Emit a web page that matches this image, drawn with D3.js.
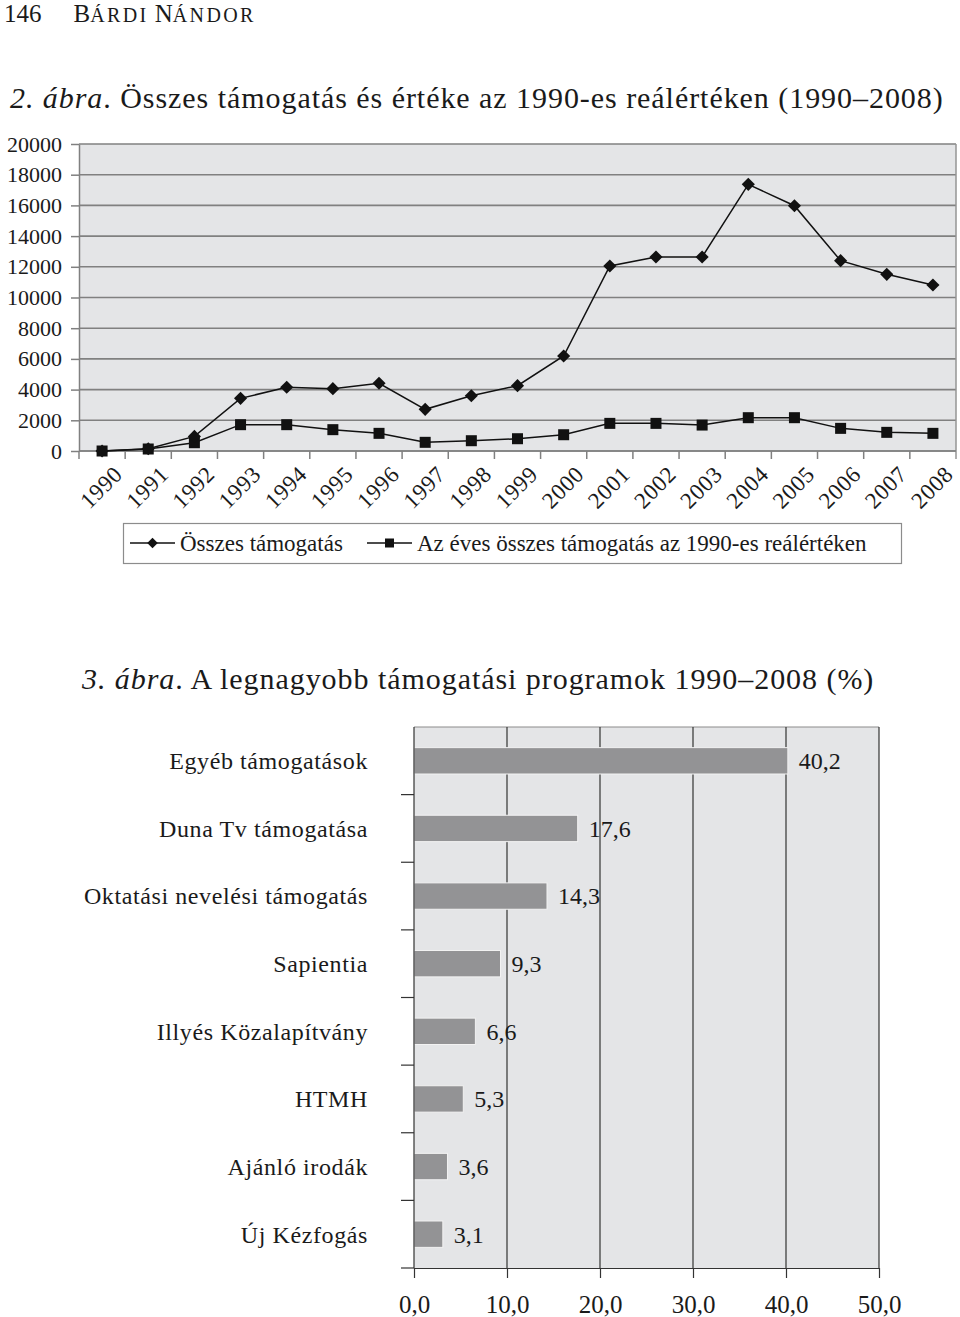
<!DOCTYPE html>
<html>
<head>
<meta charset="utf-8">
<script src="https://cdn.jsdelivr.net/npm/d3@7"></script>
<style>
  body { margin: 0; background: #fff; }
  svg text { font-family: "Liberation Serif", "Times New Roman", serif !important; fill: #1a1a1a; }
</style>
</head>
<body>
<script>
// --- data: figure 2 (line chart)
var years = ["1990","1991","1992","1993","1994","1995","1996","1997","1998","1999",
             "2000","2001","2002","2003","2004","2005","2006","2007","2008"];
var osszes = [0, 150, 950, 3430, 4150, 4060, 4410, 2715, 3600, 4255,
              6190, 12050, 12640, 12640, 17370, 15980, 12400, 11510, 10815];
var realErtek = [0, 130, 540, 1715, 1715, 1390, 1150, 565, 670, 800,
                 1060, 1800, 1800, 1690, 2170, 2170, 1475, 1215, 1150];
var lineTicks = [0, 2000, 4000, 6000, 8000, 10000, 12000, 14000, 16000, 18000, 20000];
var seriesNames = ["Összes támogatás", "Az éves összes támogatás az 1990-es reálértéken"];

// --- data: figure 3 (bar chart)
var programs = ["Egyéb támogatások", "Duna Tv támogatása", "Oktatási nevelési támogatás",
                "Sapientia", "Illyés Közalapítvány", "HTMH", "Ajánló irodák", "Új Kézfogás"];
var shares = [40.2, 17.6, 14.3, 9.3, 6.6, 5.3, 3.6, 3.1];
var barTicks = [0, 10, 20, 30, 40, 50];

var fmt = function(v) { return d3.format(".1f")(v).replace(".", ","); };

var svg = d3.select("body").append("svg")
    .attr("width", 960)
    .attr("height", 1317);

// page header (hand-made small caps)
var head = svg.append("text").attr("x", 4).attr("y", 22).style("font-size", "25px");
head.append("tspan").text("146");
head.append("tspan").attr("dx", 32).text("B");
head.append("tspan").style("font-size", "20px").style("letter-spacing", "2.4px").text("ÁRDI");
head.append("tspan").attr("dx", 6).text("N");
head.append("tspan").style("font-size", "20px").style("letter-spacing", "2.4px").text("ÁNDOR");

// figure 2 title
var t2 = svg.append("text").attr("x", 10).attr("y", 108)
    .style("font-size", "30px").style("letter-spacing", "0.95px");
t2.append("tspan").style("font-style", "italic").text("2. ábra");
t2.append("tspan").text(". Összes támogatás és értéke az 1990-es reálértéken (1990–2008)");

// ---------- line chart ----------
var m = {left: 79, top: 144, right: 956, bottom: 451};
var g1 = svg.append("g");

var x = d3.scaleBand()
    .domain(years)
    .range([m.left, m.right])
    .padding(0);
var y = d3.scaleLinear()
    .domain([0, 20000])
    .range([m.bottom, m.top]);

g1.append("rect")
    .attr("x", m.left).attr("y", m.top)
    .attr("width", m.right - m.left).attr("height", m.bottom - m.top)
    .attr("fill", "#e4e5e7");

// horizontal gridlines
g1.selectAll(".grid")
    .data(lineTicks)
  .enter().append("line")
    .attr("x1", m.left).attr("x2", m.right)
    .attr("y1", function(d) { return y(d); })
    .attr("y2", function(d) { return y(d); })
    .attr("stroke", "#808080")
    .attr("stroke-width", 1.6);

// right border
g1.append("line")
    .attr("x1", m.right).attr("x2", m.right)
    .attr("y1", m.top).attr("y2", m.bottom + 8)
    .attr("stroke", "#959595").attr("stroke-width", 1.5);

// y axis
var yAxis = g1.append("g")
    .attr("transform", "translate(" + m.left + ",0)")
    .call(d3.axisLeft(y).tickValues(lineTicks).tickSize(8).tickSizeOuter(0)
      .tickPadding(9).tickFormat(function(d) { return String(d); }));
yAxis.select(".domain").attr("stroke", "#808080").attr("stroke-width", 1.5);
yAxis.selectAll(".tick line").attr("stroke", "#808080").attr("stroke-width", 1.5);
yAxis.selectAll(".tick text")
    .style("font-size", "22px")
    .attr("fill", "#1a1a1a");
g1.append("line")
    .attr("x1", m.left).attr("x2", m.left)
    .attr("y1", m.bottom).attr("y2", m.bottom + 8)
    .attr("stroke", "#808080").attr("stroke-width", 1.5);

// x axis: ticks at band edges
var xAxis = g1.append("g")
    .attr("transform", "translate(0," + m.bottom + ")");
xAxis.append("line")
    .attr("x1", m.left).attr("x2", m.right)
    .attr("stroke", "#808080").attr("stroke-width", 1.5);
xAxis.selectAll(".xt")
    .data(years.slice(1))
  .enter().append("line")
    .attr("x1", function(d) { return x(d); })
    .attr("x2", function(d) { return x(d); })
    .attr("y1", 0).attr("y2", 8)
    .attr("stroke", "#808080").attr("stroke-width", 1.5);
xAxis.selectAll(".xl")
    .data(years)
  .enter().append("text")
    .attr("transform", function(d) {
      return "translate(" + (x(d) + x.bandwidth() / 2 + 16) + ",19) rotate(-45)";
    })
    .attr("text-anchor", "end")
    .attr("dy", "0.35em")
    .style("font-size", "23px")
    .style("letter-spacing", "0.6px")
    .text(function(d) { return d; });

var line = d3.line()
    .x(function(d, i) { return x(years[i]) + x.bandwidth() / 2; })
    .y(function(d) { return y(d); });

[realErtek, osszes].forEach(function(s) {
  g1.append("path")
      .datum(s)
      .attr("fill", "none")
      .attr("stroke", "#111")
      .attr("stroke-width", 1.5)
      .attr("d", line);
});

// square markers
g1.selectAll(".sq")
    .data(realErtek)
  .enter().append("rect")
    .attr("x", function(d, i) { return x(years[i]) + x.bandwidth() / 2 - 5.5; })
    .attr("y", function(d) { return y(d) - 5.5; })
    .attr("width", 11).attr("height", 11)
    .attr("fill", "#111");

// diamond markers
var diamond = d3.symbol().type(d3.symbolDiamond2).size(110);
g1.selectAll(".dm")
    .data(osszes)
  .enter().append("path")
    .attr("d", diamond)
    .attr("transform", function(d, i) {
      return "translate(" + (x(years[i]) + x.bandwidth() / 2) + "," + y(d) + ")";
    })
    .attr("fill", "#111");

// legend
var lg = svg.append("g");
lg.append("rect")
    .attr("x", 123.5).attr("y", 523.5)
    .attr("width", 778).attr("height", 40)
    .attr("fill", "#fff").attr("stroke", "#8c8c8c").attr("stroke-width", 1.2);
var legendItems = [
  {name: seriesNames[0], x0: 130, marker: "diamond"},
  {name: seriesNames[1], x0: 367, marker: "square"}
];
legendItems.forEach(function(it) {
  lg.append("line")
      .attr("x1", it.x0).attr("x2", it.x0 + 45)
      .attr("y1", 543).attr("y2", 543)
      .attr("stroke", "#111").attr("stroke-width", 1.5);
  if (it.marker === "diamond") {
    lg.append("path").attr("d", d3.symbol().type(d3.symbolDiamond2).size(70))
        .attr("transform", "translate(" + (it.x0 + 22.5) + ",543)")
        .attr("fill", "#111");
  } else {
    lg.append("rect")
        .attr("x", it.x0 + 18).attr("y", 538.5)
        .attr("width", 9).attr("height", 9)
        .attr("fill", "#111");
  }
  lg.append("text")
      .attr("x", it.x0 + 50).attr("y", 551)
      .style("font-size", "23px")
      .text(it.name);
});

// figure 3 title
var t3 = svg.append("text").attr("x", 82).attr("y", 689)
    .style("font-size", "30px").style("letter-spacing", "0.95px");
t3.append("tspan").style("font-style", "italic").text("3. ábra");
t3.append("tspan").text(". A legnagyobb támogatási programok 1990–2008 (%)");

// ---------- bar chart ----------
var b = {left: 414, top: 727, right: 879, bottom: 1268};
var g2 = svg.append("g");

var bx = d3.scaleLinear()
    .domain([0, 50])
    .range([b.left, b.right]);
var by = d3.scaleBand()
    .domain(programs)
    .range([b.top, b.bottom])
    .paddingInner(0.61)
    .paddingOuter(0.305);

g2.append("rect")
    .attr("x", b.left).attr("y", b.top)
    .attr("width", b.right - b.left).attr("height", b.bottom - b.top)
    .attr("fill", "#e4e5e7");

g2.append("line")
    .attr("x1", b.left).attr("x2", b.right)
    .attr("y1", b.top).attr("y2", b.top)
    .attr("stroke", "#8c8c8c").attr("stroke-width", 1.2);

// vertical gridlines
g2.selectAll(".vg")
    .data(barTicks.slice(1))
  .enter().append("line")
    .attr("x1", function(d) { return bx(d); })
    .attr("x2", function(d) { return bx(d); })
    .attr("y1", b.top).attr("y2", b.bottom)
    .attr("stroke", "#333").attr("stroke-width", 1.2);

g2.selectAll(".bar")
    .data(shares)
  .enter().append("rect")
    .attr("x", bx(0))
    .attr("y", function(d, i) { return by(programs[i]); })
    .attr("width", function(d) { return bx(d) - bx(0); })
    .attr("height", by.bandwidth())
    .attr("fill", "#939395")
    .attr("stroke", "#f2f2f2")
    .attr("stroke-width", 1);

g2.selectAll(".val")
    .data(shares)
  .enter().append("text")
    .attr("x", function(d) { return bx(d) + 11; })
    .attr("y", function(d, i) { return by(programs[i]) + by.bandwidth() / 2; })
    .attr("dy", "0.35em")
    .style("font-size", "24px")
    .text(function(d) { return fmt(d); });

// category axis (ticks between bands)
var step = by.step();
var catEdges = d3.range(1, programs.length + 1).map(function(i) { return b.top + i * step; });
g2.append("line")
    .attr("x1", b.left).attr("x2", b.left)
    .attr("y1", b.top).attr("y2", b.bottom)
    .attr("stroke", "#333").attr("stroke-width", 1.2);
g2.selectAll(".ct")
    .data(catEdges)
  .enter().append("line")
    .attr("x1", b.left - 13).attr("x2", b.left)
    .attr("y1", function(d) { return d; })
    .attr("y2", function(d) { return d; })
    .attr("stroke", "#333").attr("stroke-width", 1.2);
g2.selectAll(".cl")
    .data(programs)
  .enter().append("text")
    .attr("x", 368)
    .attr("y", function(d) { return by(d) + by.bandwidth() / 2; })
    .attr("dy", "0.35em")
    .attr("text-anchor", "end")
    .style("font-size", "24px")
    .style("letter-spacing", "0.6px")
    .text(function(d) { return d; });

// value axis
var bAxis = g2.append("g")
    .attr("transform", "translate(0," + b.bottom + ")")
    .call(d3.axisBottom(bx).tickValues(barTicks).tickSize(10).tickSizeOuter(0)
      .tickPadding(17).tickFormat(fmt));
bAxis.select(".domain").attr("stroke", "#333").attr("stroke-width", 1.2);
bAxis.selectAll(".tick line").attr("stroke", "#333").attr("stroke-width", 1.2);
bAxis.selectAll(".tick text")
    .style("font-size", "25px")
    .attr("fill", "#1a1a1a");
</script>
</body>
</html>
